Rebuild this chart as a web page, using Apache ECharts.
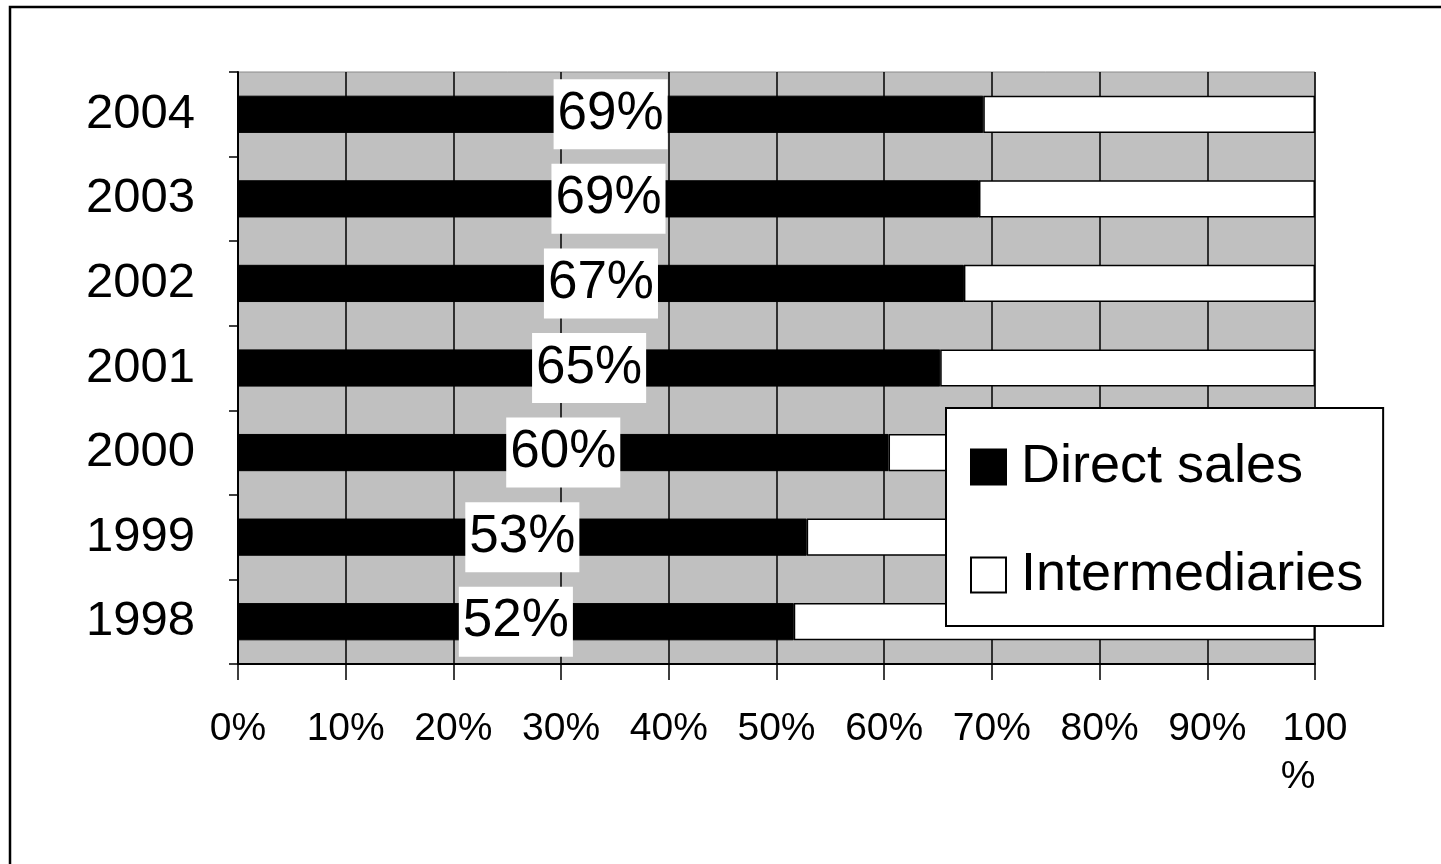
<!DOCTYPE html>
<html>
<head>
<meta charset="utf-8">
<script src="https://cdn.jsdelivr.net/npm/echarts@6/dist/echarts.min.js"></script>
<style>
  html, body { margin: 0; padding: 0; background: #fff; }
  #chart { width: 1441px; height: 864px; }
</style>
</head>
<body>
<div id="chart"></div>
<script>
// Sales channel split per year (share of total, %)
const years = ['1998', '1999', '2000', '2001', '2002', '2003', '2004'];
const directSales = [51.6, 52.8, 60.4, 65.2, 67.4, 68.8, 69.2];
const intermediaries = [48.4, 47.2, 39.6, 34.8, 32.6, 31.2, 30.8];
const xTicks = [0, 10, 20, 30, 40, 50, 60, 70, 80, 90, 100];

const chart = echarts.init(document.getElementById('chart'), null, { renderer: 'canvas' });

const baseFont = '"Liberation Sans", Arial, sans-serif';
const axisFont = '"Liberation Sans Narrow", "Arial Narrow", "Liberation Sans", sans-serif';

chart.setOption({
  animation: false,
  backgroundColor: '#ffffff',
  graphic: [
    {
      type: 'rect',
      shape: { x: 10, y: 7, width: 2000, height: 2000 },
      style: { fill: 'none', stroke: '#000', lineWidth: 2.5 },
      silent: true,
      z: -10
    }
  ],
  grid: {
    left: 238,
    top: 72,
    width: 1077,
    height: 592,
    show: true,
    backgroundColor: '#c0c0c0',
    borderColor: '#8a8a8a',
    borderWidth: 1
  },
  legend: {
    left: 946,
    top: 408,
    orient: 'vertical',
    data: ['Direct sales', 'Intermediaries'],
    icon: 'rect',
    itemWidth: 35,
    itemHeight: 35,
    itemGap: 54,
    padding: [32, 20, 24, 24],
    backgroundColor: '#ffffff',
    borderColor: '#000',
    borderWidth: 2,
    textStyle: {
      fontFamily: baseFont,
      fontSize: 54,
      color: '#000',
      padding: [0, 0, 0, 10]
    }
  },
  xAxis: {
    type: 'value',
    min: 0,
    max: 100,
    interval: 10,
    axisLine: { show: true, onZero: false, lineStyle: { color: '#000', width: 2 } },
    axisTick: { show: true, length: 16, lineStyle: { color: '#000', width: 1.5 } },
    splitLine: { show: true, lineStyle: { color: '#000', width: 1.5 } },
    axisLabel: {
      margin: 41,
      fontFamily: axisFont,
      fontSize: 39,
      color: '#000',
      formatter: function (v) {
        return v === 100 ? '{n|100}\n{p|%}' : '{n|' + v + '%}';
      },
      rich: {
        n: { fontFamily: axisFont, fontSize: 39, color: '#000', lineHeight: 48 },
        p: { fontFamily: axisFont, fontSize: 39, color: '#000', lineHeight: 48, padding: [0, 34, 0, 0] }
      }
    }
  },
  yAxis: {
    type: 'category',
    data: years,
    axisLine: { show: true, lineStyle: { color: '#000', width: 2 } },
    axisTick: { show: true, length: 9, lineStyle: { color: '#000', width: 1.5 } },
    splitLine: { show: false },
    axisLabel: {
      margin: 43,
      fontFamily: baseFont,
      fontSize: 49,
      color: '#000'
    }
  },
  series: [
    {
      name: 'Direct sales',
      type: 'bar',
      stack: 'share',
      data: directSales,
      barWidth: '44%',
      itemStyle: { color: '#000', borderColor: '#000', borderWidth: 1 },
      label: {
        show: true,
        position: 'inside',
        formatter: function (p) { return Math.round(p.value) + '%'; },
        fontFamily: baseFont,
        fontSize: 53,
        lineHeight: 52,
        color: '#000',
        backgroundColor: '#ffffff',
        padding: [9, 4, 9, 4]
      },
      z: 3
    },
    {
      name: 'Intermediaries',
      type: 'bar',
      stack: 'share',
      data: intermediaries,
      barWidth: '44%',
      itemStyle: { color: '#fff', borderColor: '#000', borderWidth: 1.5 },
      z: 2
    }
  ]
});
</script>
</body>
</html>
